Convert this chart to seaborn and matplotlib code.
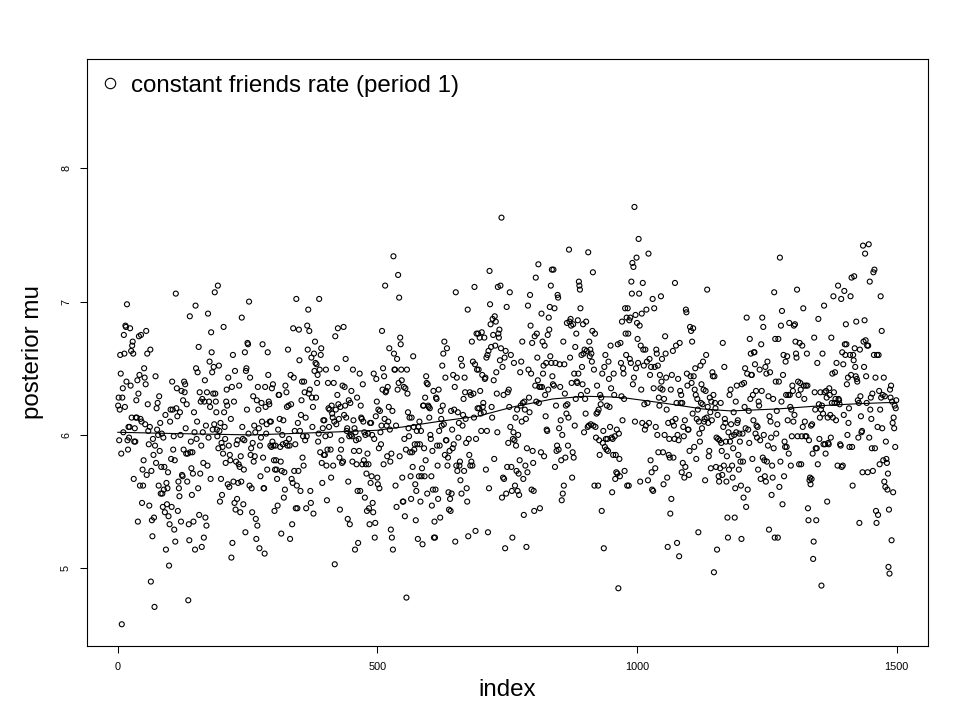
import numpy as np
import matplotlib
matplotlib.use("Agg")
import matplotlib.pyplot as plt
from matplotlib.lines import Line2D
import seaborn as sns

# posterior mu per iteration (left to right)
mu = [
    # index ~1-115
    6.22, 6.28, 5.96, 6.19, 6.60, 6.46, 5.86, 4.58, 6.28, 6.35, 6.02,
    6.75, 6.61, 6.21, 6.82, 6.81, 6.40, 6.98, 5.96, 5.89, 6.06, 5.98,
    6.06, 6.80, 6.37, 6.63, 6.13, 6.67, 6.70, 6.61, 5.67, 5.95, 6.05,
    5.95, 6.13, 6.26, 6.13, 6.41, 5.35, 6.31, 6.74, 6.45, 5.62, 6.12,
    6.75, 6.10, 5.49, 5.74, 5.62, 5.81, 6.50, 6.43, 6.08, 6.38,
    6.78, 5.70, 6.61, 6.23, 6.03, 5.93, 5.47, 6.06, 6.64, 4.90, 5.73,
    5.36, 5.24, 5.97, 5.85, 5.38, 4.71, 5.92, 6.44, 5.79, 6.20, 6.04,
    6.24, 6.00, 5.62, 6.29, 5.88, 6.09, 5.56, 5.76, 6.01, 5.56,
    5.46, 5.98, 5.59, 5.76, 5.42, 6.15, 5.14, 5.64, 5.48, 5.60, 5.72,
    5.39, 5.02, 5.33, 6.10, 6.19, 5.82, 5.46, 6.40, 6.19, 5.89, 5.99,
    5.29, 5.81, 5.20, 7.06, 6.20, 6.35, 6.14,
    # index ~116-260
    5.43, 5.65, 5.60, 5.54, 6.17, 6.00, 5.35, 6.33, 5.70, 5.69, 6.26,
    5.89, 6.40, 6.32, 6.38, 6.05, 5.86, 6.23, 5.65, 5.86, 4.76, 5.33,
    5.21, 6.89, 5.87, 5.95, 5.75, 5.55, 5.87, 5.71, 5.35, 6.17, 6.02,
    5.14, 6.97, 6.50, 5.97, 6.10, 6.47, 5.60, 6.66, 5.40, 6.32, 5.71,
    6.25, 5.92, 5.16, 6.27, 6.02, 5.79, 5.23, 6.25, 6.41, 5.38, 6.07,
    5.32, 6.32, 5.77, 6.91, 5.98, 6.25, 6.55, 6.21, 5.67, 6.77, 6.62,
    6.47, 6.04, 6.31, 6.51, 6.08, 7.07, 6.31, 6.25, 6.17, 6.04, 5.99,
    7.12, 5.90, 6.52, 6.03, 5.50, 6.09, 5.67, 5.94, 5.55, 5.91, 5.86,
    6.81, 6.17, 6.06, 5.97, 5.79, 6.25, 6.34, 6.22, 5.63, 6.43, 5.92,
    5.61, 5.85, 5.81, 6.12, 5.08, 6.36, 5.19, 6.60, 5.65, 6.25, 5.49,
    6.48, 5.44, 5.80, 5.93, 5.52, 5.96, 5.64, 5.78, 6.37, 5.76, 5.42,
    5.84, 5.65, 6.88, 6.06, 5.97, 5.48, 5.74, 5.96, 6.62, 5.27, 6.48,
    6.50, 6.19, 6.69, 6.68, 6.01, 7.00, 5.62, 6.43, 5.85, 5.90, 5.60,
    5.42, 5.94,
    # index ~261-404
    6.29, 5.80, 6.07, 5.84, 6.02, 5.37, 5.22, 6.26, 5.32, 6.36, 6.19,
    6.05, 5.15, 5.92, 5.69, 5.98, 6.24, 6.10, 6.68, 5.83, 5.60, 5.60,
    5.11, 6.36, 6.21, 6.01, 6.08, 5.74, 6.62, 6.45, 6.25, 6.23, 6.10,
    5.92, 6.10, 5.91, 6.35, 5.95, 6.38, 5.92, 5.81, 5.43, 5.74, 5.92,
    5.81, 5.74, 5.67, 5.47, 6.04, 6.30, 6.30, 6.12, 5.91, 5.80, 5.26,
    5.73, 6.00, 5.93, 6.11, 5.53, 5.72, 5.59, 6.37, 5.94, 6.32, 6.21,
    5.92, 6.64, 6.22, 5.97, 5.92, 5.22, 6.45, 6.23, 5.67, 5.33, 5.64,
    6.80, 6.43, 5.73, 6.03, 5.93, 5.45, 7.02, 5.62, 5.45, 6.09, 5.73,
    6.79, 6.56, 6.03, 5.58, 6.15, 6.26, 6.40, 5.83, 5.99, 5.77, 6.40,
    6.32, 5.96, 6.13, 5.45, 5.99, 6.82, 6.64, 6.94, 6.31, 6.78, 6.34,
    5.58, 5.49, 6.58, 6.28, 6.06, 6.21, 5.41, 6.61, 6.48, 6.70, 6.54,
    6.28, 6.53, 6.39, 6.45, 5.95, 6.01, 7.02, 6.49, 5.87, 6.60, 6.65,
    5.79, 5.64, 6.05, 6.11, 5.85, 6.11, 5.85, 5.99, 6.49, 5.77,
    5.51, 5.89,
    # index ~405-549
    6.39, 6.20, 6.06, 6.19, 6.00, 5.89, 5.68, 6.22, 6.16, 6.13, 5.77,
    6.39, 6.10, 5.03, 6.74, 6.19, 6.08, 6.50, 6.30, 6.80, 6.23, 6.12,
    5.83, 5.44, 6.21, 5.89, 5.96, 5.79, 6.37, 5.80, 6.81, 6.15, 6.36,
    6.22, 6.57, 6.13, 6.03, 6.05, 5.37, 5.65, 6.26, 5.99, 5.33, 6.24,
    6.00, 6.33, 5.99, 5.80, 6.49, 6.11, 5.88, 6.05, 5.14, 6.02, 5.96,
    5.78, 6.28, 5.58, 5.19, 5.97, 5.88, 6.46, 5.58, 6.22, 6.13, 6.12,
    5.78, 6.38, 6.10, 5.81, 6.02, 5.53, 6.00, 5.78, 5.71, 5.43, 5.86,
    6.01, 5.78, 5.45, 5.33, 6.09, 5.64, 6.09, 5.69, 6.00, 5.49, 5.42,
    6.46, 5.97, 5.23, 5.34, 6.14, 6.42, 6.25, 5.68, 5.63, 6.19, 5.90,
    5.60, 6.18, 6.02, 5.93, 6.07, 6.78, 6.34, 6.50, 5.78, 6.44, 6.12,
    7.12, 6.32, 6.33, 6.07, 5.84, 6.36, 6.10, 6.21, 6.65, 6.04, 5.80,
    5.29, 5.86, 5.23, 6.18, 5.14, 7.34, 6.61, 6.49, 6.49, 5.62,
    6.07, 5.46, 6.57, 6.34, 7.20, 6.39, 7.03, 5.84, 6.73, 6.68,
    6.49, 6.41, 5.68, 5.50,
    # index ~550-693
    5.50, 6.36, 5.97, 5.39, 6.35, 5.89, 4.78, 6.49, 6.31, 6.17, 6.05,
    5.99, 6.13, 5.87, 5.69, 5.52, 6.13, 5.87, 5.76, 6.59, 6.06,
    5.89, 5.93, 5.63, 5.36, 5.58, 6.03, 5.93, 5.22, 6.06, 5.69, 6.10,
    5.93, 5.50, 6.03, 5.69, 5.75, 5.18, 6.22, 6.22, 5.90, 5.69,
    6.28, 5.81, 6.44, 6.39, 5.56, 6.38, 6.22, 6.21, 6.13, 6.20, 6.00,
    5.97, 5.69, 5.47, 5.88, 5.59, 6.33, 5.23, 5.35, 5.23, 5.59,
    6.28, 6.27, 5.92, 5.77, 5.52, 6.34, 6.03, 5.92, 5.38, 6.18, 6.12,
    6.07, 6.52, 6.22, 6.61, 6.08, 6.70, 5.85, 6.43, 5.96, 5.96,
    6.65, 5.77, 5.83, 5.57, 5.44, 5.88, 5.52, 5.43, 6.18, 5.56, 6.04,
    5.90, 6.45, 5.93, 6.19, 6.36, 5.20, 7.07, 5.77, 6.43, 5.73,
    6.17, 5.98, 6.09, 5.77, 5.80, 5.66, 6.57, 5.56, 6.52, 6.07, 6.15,
    6.27, 5.73, 6.43, 6.32, 6.12, 5.94, 5.60, 5.50, 6.94, 5.24,
    5.97, 5.85, 6.32, 5.77, 6.30, 5.80, 6.70, 5.77, 6.55, 6.31,
    6.13, 7.11, 6.53, 5.28, 5.97, 6.76, 6.49, 6.20,
    # index ~694-838
    6.76, 6.49, 6.20, 6.73, 6.33, 6.16, 6.03, 6.77, 6.45, 6.21,
    6.24, 6.17, 6.73, 6.42, 6.43, 5.74, 6.58, 6.03, 6.60, 5.27,
    6.63, 5.60, 7.23, 6.98, 6.83, 6.66, 6.21, 6.13, 6.87, 6.75,
    6.41, 5.82, 6.89, 6.67, 6.85, 6.47, 6.31, 6.02, 7.11, 6.76,
    6.73, 6.79, 6.56, 7.12, 6.65, 7.63, 5.53, 6.51, 5.68, 6.30,
    5.67, 6.58, 5.15, 6.63, 5.56, 6.96, 5.76, 6.32, 5.94, 6.34,
    6.21, 7.07, 6.06, 6.60, 5.76, 5.58, 5.23, 5.97, 6.02, 6.54,
    5.96, 5.62, 6.13, 5.92, 5.73, 6.19, 5.58, 6.00, 5.71, 5.55,
    5.81, 6.47, 6.22, 6.55, 6.10, 6.70, 6.24, 5.67, 5.40, 6.25,
    6.19, 5.77, 6.12, 5.16, 5.90, 5.72, 6.97, 6.49, 6.28, 6.17,
    7.05, 6.82, 6.46, 5.59, 6.69, 5.88, 5.79, 5.58, 5.43, 6.74,
    6.37, 7.18, 6.25, 6.76, 6.58, 6.41, 7.28, 6.24, 6.36, 5.45,
    6.36, 5.87, 6.91, 6.36, 6.70, 6.46, 6.52, 5.84, 6.67, 6.30,
    6.14, 6.54, 6.04, 6.03, 6.75, 6.34, 6.88, 6.79, 6.96, 6.59,
    7.12, 6.54, 7.24, 6.44, 6.38,
    # index ~839-982
    7.24, 6.37, 6.95, 5.76, 6.54, 6.22, 5.88, 5.92, 7.05, 7.03,
    5.89, 6.05, 6.53, 6.36, 6.11, 5.81, 5.51, 6.00, 5.56, 6.70,
    5.62, 6.53, 6.31, 5.83, 6.22, 6.16, 6.84, 6.23, 5.92, 6.13,
    7.39, 6.85, 6.58, 6.87, 6.82, 6.39, 5.68, 5.87, 6.83, 5.83,
    6.46, 6.07, 6.66, 6.27, 6.76, 6.40, 6.39, 6.86, 6.46, 7.15,
    7.12, 7.09, 6.95, 6.30, 6.60, 6.51, 6.38, 6.83, 6.61, 6.02,
    6.64, 6.27, 6.16, 6.85, 6.63, 6.33, 6.06, 7.37, 6.07, 6.70,
    6.59, 6.64, 6.08, 6.61, 6.55, 6.78, 7.22, 6.07, 6.49, 5.62,
    6.76, 6.06, 5.98, 6.16, 6.37, 6.17, 5.62, 6.19, 5.96, 5.85,
    6.30, 6.23, 6.28, 5.43, 6.46, 5.94, 6.03, 5.15, 6.51, 5.91,
    6.60, 5.97, 5.89, 6.22, 5.97, 5.88, 6.55, 6.42, 6.21,
    6.06, 6.67, 6.35, 5.98, 5.57, 5.97, 5.85,
    6.46, 6.30, 5.99, 5.67, 5.85, 5.72, 6.04, 5.71, 6.68, 4.85,
    6.01, 5.82, 5.69, 6.69, 6.54, 6.29, 6.85, 6.11, 6.50, 6.46,
    6.27, 5.73, 6.95, 6.76, 6.60, 6.88, 5.62,
    # index ~983-1126
    6.95, 6.76, 5.62, 6.86, 6.57, 6.88, 6.54, 7.15, 7.06, 7.29,
    6.38, 7.26, 6.43, 7.71, 6.10, 6.90, 6.50, 7.33, 6.84, 6.72,
    6.54, 7.47, 7.06, 6.82, 5.65, 6.67, 6.34, 6.91, 6.09, 7.14,
    6.64, 6.52, 6.23, 6.04, 6.64, 6.07, 6.94, 6.55, 6.24, 5.66,
    7.36, 6.09, 6.57, 6.45, 5.81, 6.51, 5.72, 5.59, 7.02, 5.58,
    6.35, 6.95, 6.51, 5.75, 6.06, 6.64, 6.61, 6.00, 6.52, 5.87,
    6.28, 6.22, 6.45, 6.35, 7.04, 6.40, 6.57, 6.34, 5.87, 5.63,
    6.27, 6.00, 6.74, 6.61, 6.43, 6.19, 5.68, 5.16, 6.09, 5.85,
    5.97, 5.83, 5.41, 6.34, 5.52, 6.45, 6.10, 6.63, 5.83, 6.07,
    5.97, 7.14, 6.12, 6.67, 6.24, 5.19, 6.00, 6.42, 5.96, 5.09,
    6.69, 6.33, 6.24, 6.30, 5.72, 6.24, 5.79, 6.06, 5.99, 5.68,
    6.11, 5.76, 6.94, 6.92, 6.46, 6.37, 6.04, 6.04, 5.70, 5.88,
    6.81, 6.44, 6.78, 6.39, 6.70, 6.16, 6.80, 6.44, 5.91, 6.34,
    6.50, 6.30, 5.82, 6.12, 6.27, 6.19, 5.27, 6.10, 6.01, 5.95,
    6.52, 6.24, 6.38, 6.05,
    # index ~1127-1271
    6.23, 6.55, 6.34, 6.10, 6.12, 5.66, 6.33, 6.60, 6.13, 7.09,
    6.21, 6.09, 5.84, 5.88, 6.28, 6.17, 5.75, 6.25, 6.11, 6.47,
    6.44, 6.30, 4.97, 6.44, 6.24, 6.20, 5.76, 5.98, 5.14, 6.15,
    5.97, 5.69, 5.65, 5.96, 5.75, 6.24, 5.94, 5.88, 5.70, 6.69,
    6.06, 5.77, 6.51, 6.12, 6.09, 5.95, 5.65, 5.84, 5.38, 5.23,
    6.02, 5.74, 6.30, 5.95, 6.34, 6.08, 5.99, 5.77, 5.68, 5.90,
    6.17, 6.00, 5.38, 5.60, 6.25, 6.02, 6.37, 6.09, 6.11, 5.85,
    5.74, 6.01, 5.95, 5.80, 5.62, 5.22, 6.38, 6.01, 5.80, 5.53,
    6.39, 6.21, 6.50, 6.05, 5.46, 6.88, 6.46, 5.59, 6.04, 6.18,
    5.94, 6.72, 6.27, 6.61, 6.45, 6.45, 5.82, 6.30, 6.11, 6.62,
    6.62, 6.53, 6.01, 6.33, 6.07, 5.98, 6.06, 5.74, 6.25, 6.22,
    6.49, 5.96, 5.67, 6.68, 6.33, 6.88, 5.83, 6.81, 6.00, 5.81,
    5.69, 6.51, 5.65, 6.46, 5.80, 6.55, 5.92, 6.29, 5.29, 6.14,
    6.47, 6.10, 5.98, 5.55, 5.77, 5.68, 6.27, 5.90, 7.07, 5.23,
    6.72, 6.40, 6.01, 6.18, 6.08,
    # index ~1272-1500
    5.23, 6.72, 6.40, 5.61, 7.33, 5.80, 6.82, 6.25, 6.93, 5.48,
    6.45, 6.60, 5.69, 5.95, 5.91, 6.55, 6.30, 5.91, 6.59, 6.11,
    6.30, 5.86, 6.84, 6.30, 6.21, 5.77, 6.19, 5.99, 6.37, 6.33,
    6.10, 6.82, 6.15, 6.83, 6.70, 6.61, 6.58, 7.09, 5.99, 6.40,
    6.30, 5.78, 6.69, 6.39, 6.34, 5.78, 5.99, 6.67, 6.06, 6.95,
    6.37, 6.27, 6.10, 5.99, 6.37, 5.99, 6.61, 6.37, 5.45, 5.36,
    5.96, 5.66, 5.68, 5.63, 6.07, 5.67, 6.08, 5.86, 5.07, 5.20,
    6.73, 6.32, 6.19, 5.90, 5.36, 5.90, 6.54, 5.78, 6.87, 6.23,
    5.97, 6.13, 6.32, 6.19, 4.87, 6.22, 6.61, 6.16, 5.93, 6.97,
    6.32, 5.93, 5.86, 6.33, 6.28, 5.50, 6.13, 5.94, 5.93, 6.35,
    6.30, 6.15, 5.98, 6.73, 6.24, 6.46, 6.13, 7.04, 6.32, 6.24,
    6.47, 6.27, 6.11, 6.54, 6.24, 5.77, 7.12, 6.27, 6.26, 6.23,
    5.93, 5.92, 7.02, 5.76, 6.62, 5.77, 6.53, 6.15, 7.08, 6.68,
    6.60, 6.83, 6.68, 6.38, 6.00, 6.43, 6.09, 6.20, 5.91, 6.60,
    7.04, 6.45, 7.18, 5.91, 5.62, 6.60, 6.56, 7.19, 6.65, 6.51,
    6.44, 6.85, 6.42, 6.40, 6.26, 5.98, 6.24, 5.34, 6.64, 6.29,
    6.14, 6.02, 6.03, 5.72, 7.42, 6.70, 6.51, 6.86, 7.36, 6.71,
    6.44, 6.24, 6.67, 5.72, 6.67, 7.43, 5.98, 7.15, 6.19, 6.28,
    6.12, 5.90, 6.31, 5.73, 7.22, 6.60, 7.24, 5.90, 6.43, 5.43,
    5.34, 6.60, 6.06, 5.40, 6.60, 6.33, 5.78, 6.19, 7.04, 6.28,
    6.78, 6.05, 6.30, 5.81, 6.43, 5.65, 6.29, 5.61, 5.95, 5.82,
    5.79, 5.59, 5.71, 5.01, 5.44, 4.96, 6.34, 6.28, 6.37, 5.21,
    6.25, 6.09, 5.57, 6.13, 6.05, 6.22, 5.91, 6.20, 6.26,
]
index = np.arange(1, len(mu) + 1)

# smooth curve through the cloud
smooth_index = [0, 115, 260, 404, 500, 549, 616, 693, 761, 838,
                900, 950, 982, 1049, 1126, 1181, 1271, 1357, 1430, 1500]
smooth_mu = [6.02, 6.01, 6.00, 6.02, 6.035, 6.06, 6.10, 6.14, 6.21, 6.27,
             6.29, 6.285, 6.275, 6.24, 6.195, 6.18, 6.195, 6.22, 6.235, 6.245]

x_ticks = [0, 500, 1000, 1500]
y_ticks = [5, 6, 7, 8]
legend_label = "constant friends rate (period 1)"

sns.set_style("ticks", {"axes.edgecolor": "black", "xtick.color": "black",
                        "ytick.color": "black", "axes.labelcolor": "black",
                        "text.color": "black", "axes.linewidth": 0.75})
plt.rcParams["font.family"] = ["Liberation Sans", "DejaVu Sans"]

fig = plt.figure(figsize=(9.6, 7.2), dpi=100)
ax = fig.add_axes([0.0906, 0.1028, 0.876, 0.8153])

sns.scatterplot(x=index, y=mu, ax=ax, marker="o", s=13, facecolors="none",
                edgecolor="black", linewidth=0.8)
sns.lineplot(x=smooth_index, y=smooth_mu, ax=ax, color="black", linewidth=0.8)

ax.set_xlim(-59, 1560)
ax.set_ylim(4.417, 8.82)
ax.set_xticks(x_ticks)
ax.set_yticks(y_ticks)
ax.tick_params(direction="out", length=5, width=0.75, labelsize=7.8, pad=6.5,
               colors="black")
for lbl in ax.get_yticklabels():
    lbl.set_rotation(90)
    lbl.set_va("center")

ax.set_xlabel("index", fontsize=17.4, labelpad=5, color="black")
ax.set_ylabel("posterior mu", fontsize=17.4, labelpad=12, color="black")

handle = Line2D([], [], linestyle="none", marker="o", markersize=7.5,
                markerfacecolor="none", markeredgecolor="black", markeredgewidth=0.8)
ax.legend([handle], [legend_label], loc="upper left", bbox_to_anchor=(0.0158, 0.973),
          frameon=False, fontsize=17.4, handlelength=0.8, handletextpad=0.47,
          borderaxespad=0, borderpad=0, labelcolor="black")

fig.savefig("out.png", dpi=100)
plt.close(fig)
